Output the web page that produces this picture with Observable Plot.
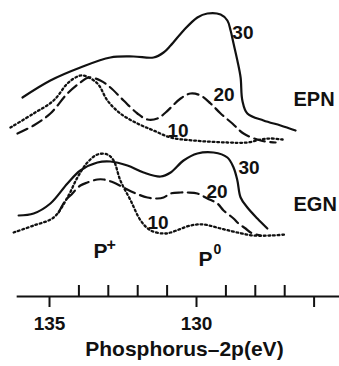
<!DOCTYPE html>
<html><head><meta charset="utf-8">
<script src="https://cdn.jsdelivr.net/npm/d3@7"></script>
<script src="https://cdn.jsdelivr.net/npm/@observablehq/plot@0.6"></script>
<style>html,body{margin:0;padding:0;background:#fff} svg{display:block}</style>
</head><body><div id="chart"></div>
<script>
// Binding energy (eV) vs. relative intensity (arbitrary units)
const epn30 = [[135.92,199],[134.97,216],[133.95,229],[132.93,239],[132.14,240],[131.46,239],[131.12,244],[130.88,251],[130.44,266],[129.97,279],[129.63,283],[129.18,282],[128.95,276],[128.84,266],[128.74,253],[128.61,236],[128.50,219],[128.44,196],[128.27,183],[127.72,176],[127.14,171],[126.63,166]];
const epn20 = [[136.09,163],[135.54,171],[134.97,183],[134.39,203],[133.95,214],[133.67,219],[133.27,216],[132.93,209],[132.48,196],[132.01,183],[131.67,177],[131.33,178],[131.05,184],[130.54,198],[130.20,203],[129.86,201],[129.52,193],[129.18,183],[128.78,173],[128.40,163],[127.82,156],[127.31,154]];
const epn10 = [[136.33,169],[135.54,183],[134.86,196],[134.39,213],[134.05,220],[133.84,221],[133.37,213],[133.03,196],[132.59,183],[132.01,173],[131.46,166],[130.88,159],[130.10,156],[128.95,154],[128.27,154],[127.82,157],[127.48,158],[127.07,157]];
const egn30 = [[136.05,81],[135.54,83],[134.97,93],[134.39,113],[133.95,126],[133.37,134],[132.93,135],[132.35,131],[131.80,124],[131.22,120],[130.88,124],[130.44,136],[129.97,143],[129.42,144],[128.95,139],[128.74,129],[128.61,116],[128.50,99],[128.27,89],[127.93,78],[127.59,68]];
const egn20 = [[134.69,84],[134.46,96],[134.29,101],[133.95,111],[133.71,114],[133.37,117],[133.16,117],[132.82,114],[132.48,109],[132.14,104],[131.67,99],[131.33,98],[131.12,99],[130.88,103],[130.54,104],[130.31,104],[129.97,103],[129.63,98],[129.29,93],[129.08,86],[128.74,78],[128.57,73],[128.33,68],[128.16,64],[127.82,61]];
const egn10 = [[136.22,64],[135.54,71],[134.86,79],[134.39,99],[134.05,119],[133.71,134],[133.37,142],[133.03,142],[132.82,136],[132.59,116],[132.24,96],[131.90,76],[131.56,66],[131.12,63],[130.88,64],[130.20,71],[129.76,72],[129.18,68],[128.61,64],[128.06,61],[127.48,61],[126.97,62]];

const majorTicks = [135, 130, 126];
const minorTicks = [134, 133, 132, 131, 129, 128, 127];
const tickLabels = [135, 130];
const axisTitle = "Phosphorus\u20132p(eV)";

// curve labels: [eV, intensity, text]
const curveLabels = [[128.78,258,"30"],[129.42,196,"20"],[130.99,160,"10"],[128.57,123,"30"],[129.66,99,"20"],[131.67,68,"10"]];
const groupLabels = [[126.70,191,"EPN"],[126.70,86,"EGN"]];
const peakLabels = [[133.50,39,"P"],[129.93,31,"P"]];
const peakSups = [[133.06,46.5,"+",16],[129.42,43,"0",14]];

const X = d => d[0], Y = d => d[1];
const lineOpts = {x: X, y: Y, curve: "catmull-rom", stroke: "#111", strokeWidth: 2.2};
const dotted = {strokeDasharray: "1.8,2.8", strokeWidth: 2.3};
const dashed = {strokeDasharray: "11,5.5"};

const chart = Plot.plot({
  width: 339, height: 366,
  marginTop: 0, marginRight: 0, marginLeft: 0, marginBottom: 70,
  x: {domain: [136.667, 125.136], axis: null},
  y: {domain: [0, 296], axis: null},
  style: {fontFamily: "'Liberation Sans', Arial, Helvetica, sans-serif", background: "#fff", color: "#111"},
  marks: [
    Plot.line(epn30, lineOpts),
    Plot.line(epn20, {...lineOpts, ...dashed}),
    Plot.line(epn10, {...lineOpts, ...dotted}),
    Plot.line(egn30, lineOpts),
    Plot.line(egn20, {...lineOpts, ...dashed}),
    Plot.line(egn10, {...lineOpts, ...dotted}),
    // axis
    Plot.ruleY([0], {x1: 136.1, x2: 125.136, stroke: "#111", strokeWidth: 2}),
    Plot.ruleX(majorTicks, {y1: 0, y2: -11, stroke: "#111", strokeWidth: 2}),
    Plot.ruleX(minorTicks, {y1: 0, y2: 11, stroke: "#111", strokeWidth: 2}),
    Plot.text(tickLabels, {x: d => d, y: 0, dy: 33, text: d => String(d), lineAnchor: "bottom", fontSize: 19, fontWeight: "bold", fill: "#111"}),
    Plot.text([axisTitle], {x: 130.41, y: 0, dy: 59, text: d => d, lineAnchor: "bottom", fontSize: 21, fontWeight: "bold", fill: "#111"}),
    // labels
    Plot.text(curveLabels, {x: X, y: Y, text: d => d[2], textAnchor: "start", lineAnchor: "bottom", fontSize: 19, fontWeight: "bold", fill: "#111"}),
    Plot.text(groupLabels, {x: X, y: Y, text: d => d[2], textAnchor: "start", lineAnchor: "bottom", fontSize: 20, fontWeight: "bold", fill: "#111"}),
    Plot.text(peakLabels, {x: X, y: Y, text: d => d[2], textAnchor: "start", lineAnchor: "bottom", fontSize: 21, fontWeight: "bold", fill: "#111"}),
    Plot.text(peakSups.filter(d => d[2] === "+"), {x: X, y: Y, text: d => d[2], textAnchor: "start", lineAnchor: "bottom", fontSize: 16, fontWeight: "bold", fill: "#111"}),
    Plot.text(peakSups.filter(d => d[2] === "0"), {x: X, y: Y, text: d => d[2], textAnchor: "start", lineAnchor: "bottom", fontSize: 14, fontWeight: "bold", fill: "#111"})
  ]
});
document.getElementById("chart").appendChild(chart);
</script></body></html>
